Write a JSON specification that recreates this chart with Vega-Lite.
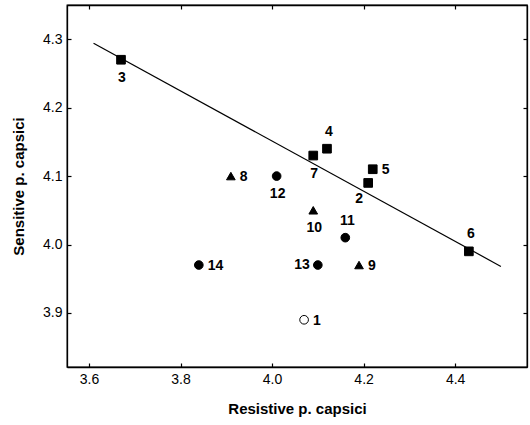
{
  "$schema": "https://vega.github.io/schema/vega-lite/v6.json",
  "width": 460,
  "height": 362,
  "autosize": "none",
  "padding": {"left": 67, "top": 5, "right": 3, "bottom": 58},
  "background": "white",
  "config": {
    "font": "Liberation Sans",
    "view": {"stroke": "black", "strokeWidth": 1.3},
    "axis": {
      "grid": false,
      "domainColor": "black",
      "domainWidth": 1.3,
      "tickColor": "black",
      "tickWidth": 1.2,
      "labelColor": "black",
      "titleColor": "black",
      "labelFontSize": 14,
      "titleFontSize": 15,
      "titleFontWeight": "bold",
      "tickSize": -4,
      "labelPadding": 9,
      "domain": true
    }
  },
  "datasets": {
    "pts": [
      {"id": "1", "res": 4.07, "sen": 3.89, "group": "open", "pos": "right"},
      {"id": "2", "res": 4.21, "sen": 4.09, "group": "square", "pos": "belowleft"},
      {"id": "3", "res": 3.67, "sen": 4.27, "group": "square", "pos": "below"},
      {"id": "4", "res": 4.12, "sen": 4.14, "group": "square", "pos": "above"},
      {"id": "5", "res": 4.22, "sen": 4.11, "group": "square", "pos": "right"},
      {"id": "6", "res": 4.43, "sen": 3.99, "group": "square", "pos": "above"},
      {"id": "7", "res": 4.09, "sen": 4.13, "group": "square", "pos": "below"},
      {"id": "8", "res": 3.91, "sen": 4.10, "group": "triangle", "pos": "right"},
      {"id": "9", "res": 4.19, "sen": 3.97, "group": "triangle", "pos": "right"},
      {"id": "10", "res": 4.09, "sen": 4.05, "group": "triangle", "pos": "below"},
      {"id": "11", "res": 4.16, "sen": 4.01, "group": "circle", "pos": "above"},
      {"id": "12", "res": 4.01, "sen": 4.10, "group": "circle", "pos": "below"},
      {"id": "13", "res": 4.10, "sen": 3.97, "group": "circle", "pos": "left"},
      {"id": "14", "res": 3.84, "sen": 3.97, "group": "circle", "pos": "right"}
    ],
    "fit": [
      {"res": 3.61, "sen": 4.294},
      {"res": 4.50, "sen": 3.968}
    ]
  },
  "layer": [
    {
      "data": {"name": "fit"},
      "mark": {"type": "line", "color": "black", "strokeWidth": 1.2},
      "encoding": {
        "x": {"field": "res", "type": "quantitative", "scale": {"domain": [3.552, 4.557], "nice": false, "zero": false},
              "axis": {"orient": "top", "labels": false, "title": null, "values": [3.6, 3.8, 4.0, 4.2, 4.4]}},
        "y": {"field": "sen", "type": "quantitative", "scale": {"domain": [3.821, 4.35], "nice": false, "zero": false},
              "axis": {"orient": "right", "labels": false, "title": null, "values": [3.9, 4.0, 4.1, 4.2, 4.3]}}
      }
    },
    {
      "data": {"name": "pts"},
      "layer": [
        {
          "mark": {"type": "point", "filled": true, "stroke": "black", "strokeWidth": 1, "opacity": 1},
          "encoding": {
            "shape": {"field": "group", "type": "nominal", "legend": null,
                      "scale": {"domain": ["square", "triangle", "circle", "open"], "range": ["square", "triangle-up", "circle", "circle"]}},
            "fill": {"field": "group", "type": "nominal", "legend": null,
                     "scale": {"domain": ["square", "triangle", "circle", "open"], "range": ["black", "black", "black", "white"]}},
            "size": {"value": 75}
          }
        },
        {
          "transform": [{"filter": "datum.pos === 'right'"}],
          "mark": {"type": "text", "align": "left", "baseline": "middle", "dx": 9, "dy": 1, "fontSize": 14, "fontWeight": "bold", "color": "black"},
          "encoding": {"text": {"field": "id"}}
        },
        {
          "transform": [{"filter": "datum.pos === 'left'"}],
          "mark": {"type": "text", "align": "right", "baseline": "middle", "dx": -8, "dy": 0, "fontSize": 14, "fontWeight": "bold", "color": "black"},
          "encoding": {"text": {"field": "id"}}
        },
        {
          "transform": [{"filter": "datum.pos === 'above'"}],
          "mark": {"type": "text", "align": "center", "baseline": "middle", "dx": 2, "dy": -17, "fontSize": 14, "fontWeight": "bold", "color": "black"},
          "encoding": {"text": {"field": "id"}}
        },
        {
          "transform": [{"filter": "datum.pos === 'below'"}],
          "mark": {"type": "text", "align": "center", "baseline": "middle", "dx": 1, "dy": 18, "fontSize": 14, "fontWeight": "bold", "color": "black"},
          "encoding": {"text": {"field": "id"}}
        },
        {
          "transform": [{"filter": "datum.pos === 'belowleft'"}],
          "mark": {"type": "text", "align": "center", "baseline": "middle", "dx": -9, "dy": 16, "fontSize": 14, "fontWeight": "bold", "color": "black"},
          "encoding": {"text": {"field": "id"}}
        }
      ],
      "encoding": {
        "x": {"field": "res", "type": "quantitative", "scale": {"domain": [3.552, 4.557], "nice": false, "zero": false},
              "axis": {"orient": "bottom", "title": "Resistive  p. capsici", "format": ".1f", "values": [3.6, 3.8, 4.0, 4.2, 4.4], "titlePadding": 15}},
        "y": {"field": "sen", "type": "quantitative", "scale": {"domain": [3.821, 4.35], "nice": false, "zero": false},
              "axis": {"orient": "left", "title": "Sensitive  p. capsici", "format": ".1f", "values": [3.9, 4.0, 4.1, 4.2, 4.3], "titlePadding": 16}}
      }
    }
  ],
  "resolve": {"axis": {"x": "independent", "y": "independent"}}
}
